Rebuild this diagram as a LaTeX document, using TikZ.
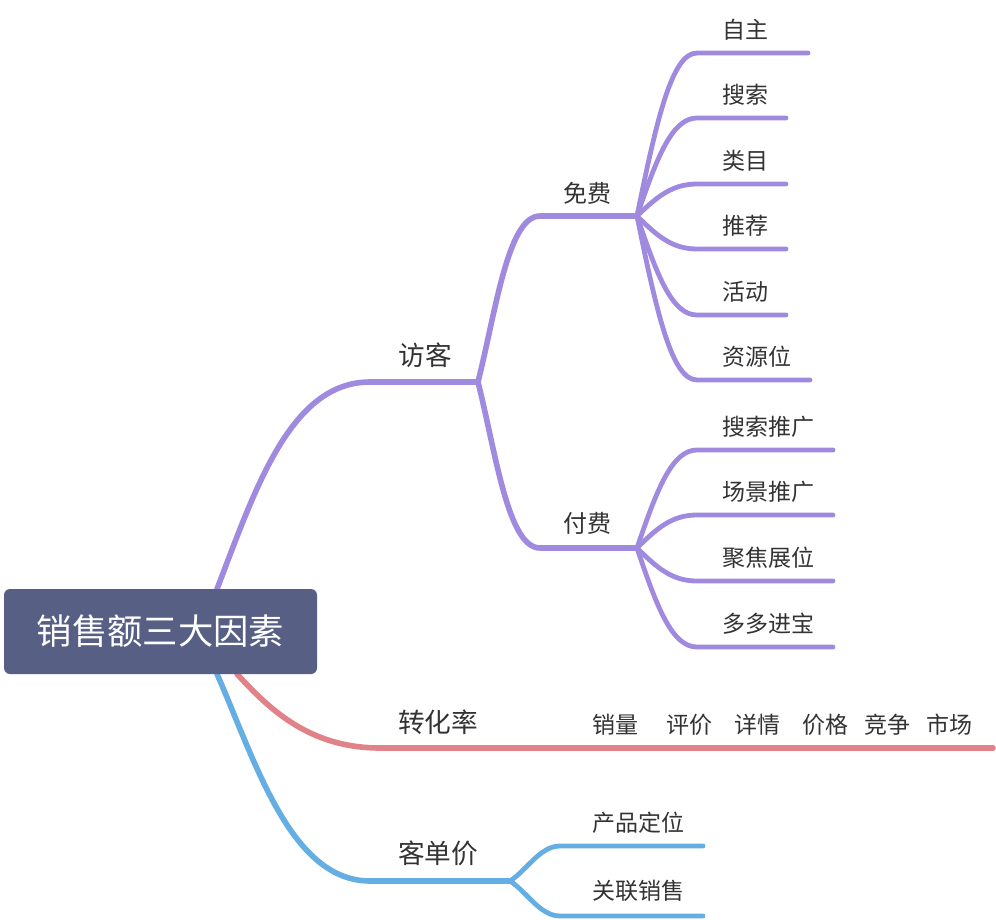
\documentclass[tikz,border=0pt]{standalone}
\usepackage{fontspec}
\newfontfamily\cjk{Noto Sans CJK SC}
\definecolor{pur}{HTML}{A08ADF}
\definecolor{crl}{HTML}{E08287}
\definecolor{blu}{HTML}{64AEE3}
\definecolor{rootc}{HTML}{585F84}
\definecolor{txt}{HTML}{333333}
\tikzset{
  rootbox/.style={fill=rootc, rounded corners=4.5pt, text=white, inner sep=0pt,
    minimum width=234.75pt, minimum height=63.75pt,
    font=\cjk\fontsize{26.5}{30}\selectfont},
  midlab/.style={text=txt, inner sep=0pt, font=\cjk\fontsize{20}{24}\selectfont},
  sublab/.style={text=txt, inner sep=0pt, font=\cjk\fontsize{18}{22}\selectfont},
  leaf/.style={text=txt, inner sep=0pt, anchor=west, font=\cjk\fontsize{17.25}{21}\selectfont},
  brp/.style={draw=pur, line width=4.2pt, line cap=round},
  subp/.style={draw=pur, line width=3.6pt, line cap=round},
  brr/.style={draw=crl, line width=4.2pt, line cap=round},
  brb/.style={draw=blu, line width=4.2pt, line cap=round},
  subb/.style={draw=blu, line width=3.6pt, line cap=round},
}
\begin{document}
\begin{tikzpicture}[x=0.75pt,y=-0.75pt]
\useasboundingbox (0,0) rectangle (996,920);

% junction coordinates
\coordinate (r1) at (217,589);
\coordinate (r2) at (237,674);
\coordinate (r3) at (217,674);
\coordinate (jv) at (478,382);
\coordinate (jf) at (637,216);
\coordinate (jp) at (637,548);
\coordinate (jz) at (493,748);
\coordinate (ze) at (993,748);
\coordinate (jk) at (510,881);

% 访客 branch
\draw[brp] (r1) .. controls (255,490) and (290,382) .. (370,382) -- (jv);
\draw[brp] (jv) .. controls (496,310) and (508,216) .. (540,216) -- (jf);
\draw[brp] (jv) .. controls (496,454) and (508,548) .. (540,548) -- (jp);

\foreach \n/\yy/\xe/\t in {fa/53/808/自主, fb/118/786/搜索, fc/184/786/类目, fd/249/786/推荐, fe/315/786/活动, ff/380/810/资源位} {
  \pgfmathsetmacro\cy{216+0.6*(\yy-216)}
  \draw[subp] (jf) .. controls (657,\cy) and (672,\yy) .. (697,\yy) -- (\xe,\yy);
  \node[leaf] (\n) at (722,\yy-23) {\t};
}
\foreach \n/\yy/\xe/\t in {pa/450/833/搜索推广, pb/515/833/场景推广, pc/581/833/聚焦展位, pd/647/833/多多进宝} {
  \pgfmathsetmacro\cy{548+0.6*(\yy-548)}
  \draw[subp] (jp) .. controls (657,\cy) and (672,\yy) .. (697,\yy) -- (\xe,\yy);
  \node[leaf] (\n) at (722,\yy-23) {\t};
}

% 转化率 branch
\draw[brr] (r2) .. controls (270,710) and (310,748) .. (380,748) -- (jz);
\draw[brr] (jz) -- (ze);

% 客单价 branch
\draw[brb] (r3) .. controls (255,760) and (290,881) .. (370,881) -- (jk);
\draw[subb] (jk) .. controls (527,870) and (540,846) .. (560,846) -- (703,846);
\draw[subb] (jk) .. controls (527,892) and (540,916) .. (560,916) -- (703,916);

% root
\node[rootbox] (root) at (160.5,631.5) {销售额三大因素};

% labels
\node[midlab] (fk) at (425,355) {访客};
\node[sublab] (mf) at (587,193) {免费};
\node[sublab] (ff2) at (587,523) {付费};
\node[midlab] (zh) at (438,722) {转化率};
\node[leaf] (zhc) at (592,725) {销量\hspace{21pt}评价\hspace{17pt}详情\hspace{16.5pt}价格\hspace{11.5pt}竞争\hspace{12pt}市场};
\node[midlab] (kd) at (438,853) {客单价};
\node[leaf] (ka) at (592,823) {产品定位};
\node[leaf] (kb) at (592,891) {关联销售};
\end{tikzpicture}
\end{document}
